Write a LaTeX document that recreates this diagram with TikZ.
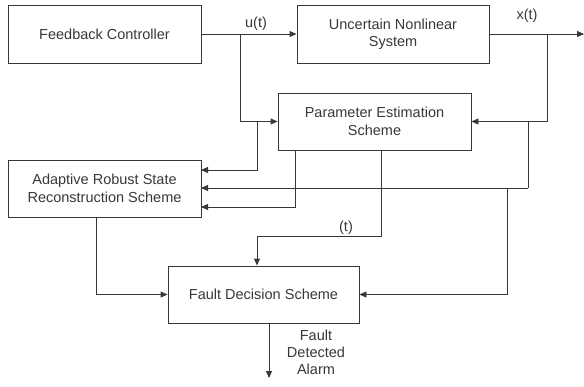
\documentclass[tikz,border=0pt]{standalone}
\usepackage{fontspec}
\setmainfont{Liberation Sans}
\usetikzlibrary{arrows.meta}
\definecolor{ink}{gray}{0.22}
\begin{document}
\begin{tikzpicture}[x=1pt,y=-1pt,
  blk/.style={draw=ink,line width=0.9pt,rectangle,align=center,text=ink,
    font=\fontsize{14.5}{17.5}\selectfont,inner sep=0pt},
  lbl/.style={text=ink,align=center,font=\fontsize{14.5}{17}\selectfont,inner sep=0pt},
  arr/.style={draw=ink,line width=0.9pt,-{Triangle[length=7pt,width=6pt]}},
  ln/.style={draw=ink,line width=0.9pt}]
\useasboundingbox (0,0) rectangle (584,386);
\node[blk,minimum width=193pt,minimum height=58pt] (fc) at (104.5,34) {Feedback Controller};
\node[blk,minimum width=192pt,minimum height=58pt] (uns) at (393,34) {Uncertain Nonlinear\\System};
\node[blk,minimum width=193pt,minimum height=57pt] (pes) at (374.5,121.5) {Parameter Estimation\\Scheme};
\node[blk,minimum width=193pt,minimum height=57pt] (ars) at (104.5,188.5) {Adaptive Robust State\\Reconstruction Scheme};
\node[blk,minimum width=191pt,minimum height=57pt] (fds) at (263.5,294.5) {Fault Decision Scheme};
% coordinates
\coordinate (ub) at (240,34);
\coordinate (uj) at (257,121.5);
\coordinate (a1) at (201,170);
\coordinate (xout) at (584,34);
\coordinate (xb) at (547,34);
\coordinate (xj) at (528,121.5);
\coordinate (a2) at (201,188);
\coordinate (xj2) at (507,188);
\coordinate (pb1) at (295,150);
\coordinate (a3) at (201,207);
\coordinate (pb2) at (381,150);
\coordinate (tc) at (381,236);
\coordinate (tl) at (257,236);
\coordinate (ab) at (96,217);
\coordinate (alarm) at (269,378);
% connectors
\draw[arr] (fc.east) -- (uns.west);
\node[lbl] (ut) at (256,24) {u(t)};
\draw[arr] (ub) |- (pes.west);
\draw[arr] (uj) |- (a1);
\draw[arr] (uns.east) -- (xout);
\node[lbl] (xt) at (527,16) {x(t)};
\draw[arr] (xb) |- (pes.east);
\draw[ln] (xj) -- (xj |- a2);
\draw[arr] (xj |- a2) -- (a2);
\draw[arr] (xj2) |- (fds.east);
\draw[arr] (pb1) |- (a3);
\draw[ln] (pb2) -- (tc) -- (tl);
\draw[arr] (tl) -- (tl |- fds.north);
\node[lbl] (tt) at (346,228) {(t)};
\draw[arr] (ab) |- (fds.west);
\draw[arr] (fds.south -| alarm) -- (alarm);
\node[lbl] (fda) at (316,352) {Fault\\Detected\\Alarm};
\end{tikzpicture}
\end{document}
